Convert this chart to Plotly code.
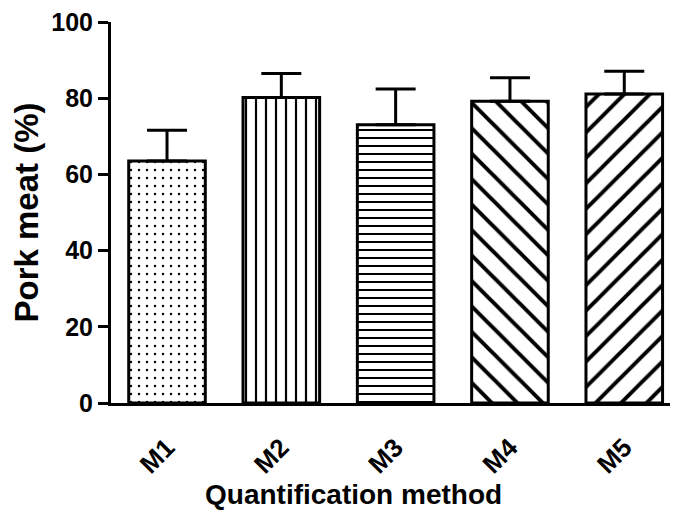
import plotly.graph_objects as go

methods = ["M1", "M2", "M3", "M4", "M5"]
means = [63.5, 80.2, 73.0, 79.2, 81.1]
sds = [8.1, 6.3, 9.4, 6.2, 6.0]
shapes = [".", "|", "-", "\\", "/"]
pat_sizes = [8, 10, 8, 18, 18]
pat_solid = [0.07, 0.22, 0.25, 0.22, 0.22]

FONT = "Arial, Liberation Sans, sans-serif"

fig = go.Figure()
for m, v, s, sh, ps, so in zip(methods, means, sds, shapes, pat_sizes, pat_solid):
    fig.add_bar(
        x=[m], y=[v],
        width=0.67,
        marker=dict(
            color="white",
            line=dict(color="black", width=3),
            pattern=dict(shape=sh, size=ps, solidity=so, fgcolor="black",
                         fgopacity=1, bgcolor="white", fillmode="overlay"),
        ),
        error_y=dict(type="data", array=[s], arrayminus=[0], symmetric=False,
                     color="black", thickness=3, width=20),
        showlegend=False,
    )

fig.update_layout(
    width=678, height=517,
    margin=dict(l=111, r=8, t=19, b=114),
    paper_bgcolor="white", plot_bgcolor="white",
    bargap=0.33,
    font=dict(family=FONT, color="black"),
    annotations=[dict(
        text="Quantification method", xref="paper", yref="paper",
        x=(353 - 111) / (670 - 111), y=-(495 - 403) / (403 - 19),
        xanchor="center", yanchor="middle", showarrow=False,
        font=dict(family=FONT, size=28, weight="bold", color="black"),
    )],
)
fig.update_xaxes(
    range=[-0.49, 4.4],
    showline=True, linecolor="black", linewidth=3,
    ticks="", showgrid=False, zeroline=False,
    tickangle=-45,
    tickfont=dict(family=FONT, size=26, weight="bold"),
    ticklabelstandoff=16,
)
fig.update_yaxes(
    range=[0, 100],
    tickvals=[0, 20, 40, 60, 80, 100],
    showline=True, linecolor="black", linewidth=3,
    ticks="outside", ticklen=10, tickwidth=3, tickcolor="black",
    showgrid=False, zeroline=False,
    tickfont=dict(family=FONT, size=25, weight="bold"),
    title=dict(text="Pork meat (%)", font=dict(family=FONT, size=33, weight="bold"), standoff=3),
)

fig.write_html("out.html")
